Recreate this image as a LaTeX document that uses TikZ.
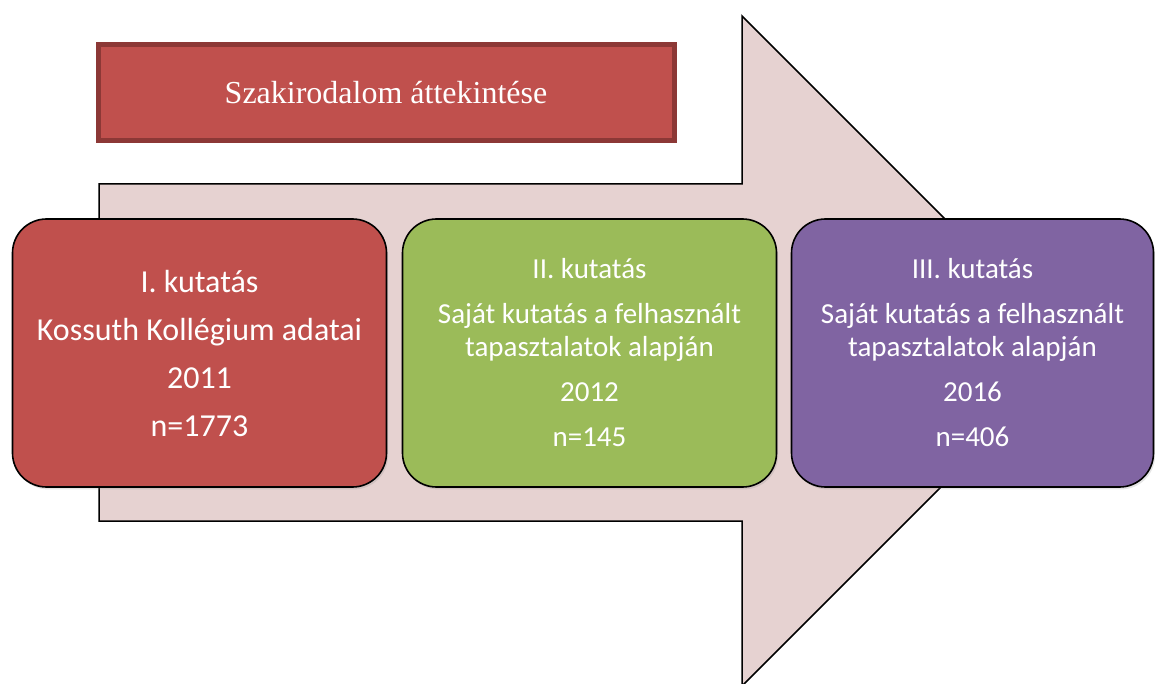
\documentclass[tikz,border=0pt]{standalone}
\usepackage{fontspec}
\setmainfont{Liberation Serif}
\newfontfamily\stagefont{Carlito}
\usetikzlibrary{shadows}
\definecolor{arrowpink}{HTML}{E6D2D1}
\definecolor{stagered}{HTML}{C0504D}
\definecolor{stagegreen}{HTML}{9BBB59}
\definecolor{stagepurple}{HTML}{8064A2}
\definecolor{titleborder}{HTML}{8C3836}
\tikzset{
  stage/.style={draw=black, line width=0.8pt, rounded corners=17pt,
    minimum height=134pt, align=center, text=white,
    drop shadow={opacity=0.2, shadow xshift=0.8pt, shadow yshift=-1.2pt}},
  bigtext/.style={font=\stagefont\fontsize{16}{19}\selectfont},
  smalltext/.style={font=\stagefont\fontsize{14.5}{16.5}\selectfont},
  titlebox/.style={draw=titleborder, line width=2.5pt, fill=stagered,
    minimum width=288pt, minimum height=48pt, text=white,
    font=\fontsize{16}{19}\selectfont}
}
\begin{document}
\begin{tikzpicture}[x=0.5pt, y=-0.5pt]
\useasboundingbox (0,0) rectangle (1155,684);
\clip (0,0) rectangle (1155,684);
% background arrow
\draw [fill=arrowpink, line width=0.75pt]
  (99,184) -- (742,184) -- (742,16) -- (1077,351) -- (742,686)
  -- (742,521) -- (99,521) -- cycle;
\node [titlebox] (review) at (386,92.5) {Szakirodalom áttekintése};
% the three studies
\foreach \n/\c/\x/\w/\f/\t in {
  1/stagered/199.5/187/bigtext/{I. kutatás\\[5pt]Kossuth Kollégium adatai\\[5pt]2011\\[5pt]n=1773},
  2/stagegreen/589.5/187/smalltext/{II. kutatás\\[6pt]Saját kutatás a felhasznált\\tapasztalatok alapján\\[6pt]2012\\[6pt]n=145},
  3/stagepurple/972.5/181/smalltext/{III. kutatás\\[6pt]Saját kutatás a felhasznált\\tapasztalatok alapján\\[6pt]2016\\[6pt]n=406}}
  \node [stage, \f, fill=\c, minimum width=\w pt] (study-\n) at (\x,353) {\t};
\end{tikzpicture}
\end{document}
